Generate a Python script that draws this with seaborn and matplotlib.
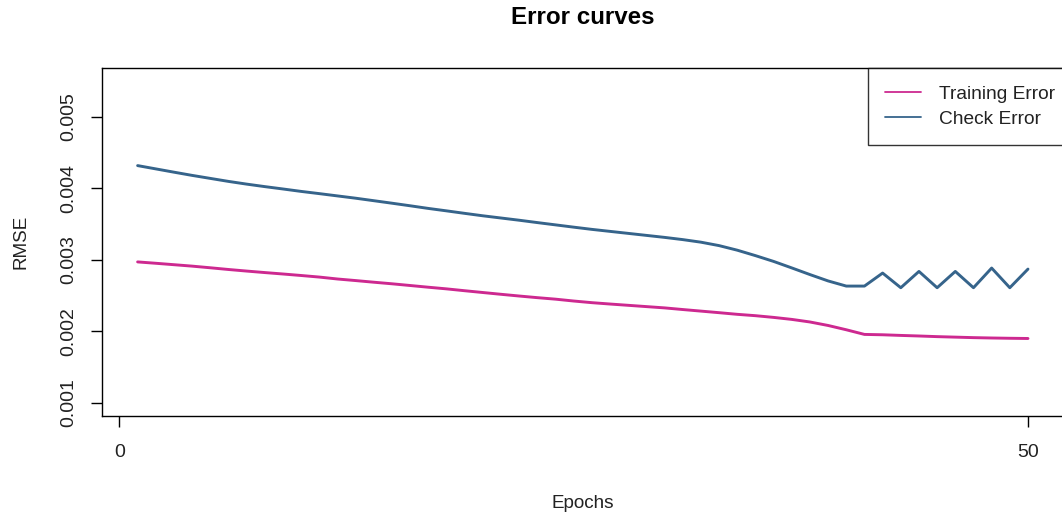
import numpy as np
import pandas as pd
import matplotlib
matplotlib.use("Agg")
import matplotlib.pyplot as plt
from matplotlib.lines import Line2D
import seaborn as sns

# Epoch numbers and RMSE per epoch for the two error curves
epochs = list(range(1, 51))

training_error = [
    0.002969, 0.002950, 0.002930, 0.002910, 0.002887, 0.002863, 0.002841, 0.002820, 0.002800, 0.002779,
    0.002757, 0.002730, 0.002708, 0.002685, 0.002663, 0.002639, 0.002615, 0.002592, 0.002566, 0.002541,
    0.002516, 0.002492, 0.002469, 0.002448, 0.002422, 0.002399, 0.002380, 0.002362, 0.002344, 0.002326,
    0.002303, 0.002281, 0.002259, 0.002236, 0.002217, 0.002193, 0.002165, 0.002129, 0.002080, 0.002020,
    0.001955, 0.001950, 0.001941, 0.001933, 0.001924, 0.001917, 0.001910, 0.001905, 0.001901, 0.001898,
]

check_error = [
    0.004316, 0.004270, 0.004224, 0.004179, 0.004137, 0.004095, 0.004057, 0.004022, 0.003989, 0.003955,
    0.003924, 0.003892, 0.003860, 0.003825, 0.003790, 0.003754, 0.003717, 0.003683, 0.003648, 0.003614,
    0.003583, 0.003552, 0.003519, 0.003487, 0.003455, 0.003424, 0.003396, 0.003368, 0.003340, 0.003312,
    0.003281, 0.003245, 0.003197, 0.003133, 0.003057, 0.002976, 0.002885, 0.002792, 0.002703, 0.002631,
    0.002631, 0.002813, 0.002608, 0.002836, 0.002608, 0.002836, 0.002608, 0.002883, 0.002608, 0.002869,
]

series_names = ["Training Error", "Check Error"]
series_colors = ["#CD2990", "#36648B"]

x_ticks = [0, 50]
y_ticks = [0.001, 0.002, 0.003, 0.004, 0.005]
y_tick_labels = ["0.001", "0.002", "0.003", "0.004", "0.005"]

df = pd.DataFrame({
    "Epoch": epochs * 2,
    "RMSE": training_error + check_error,
    "Series": [series_names[0]] * len(epochs) + [series_names[1]] * len(epochs),
})

sns.set_style("ticks")
plt.rcParams["font.family"] = ["Liberation Sans", "DejaVu Sans"]

fig = plt.figure(figsize=(10.62, 5.20), dpi=100)
W, H = 1062, 520
left, right, top, bottom = 102, 1063.6, 68, 416
ax = fig.add_axes([left / W, 1 - bottom / H, (right - left) / W, (bottom - top) / H])

sns.lineplot(
    data=df, x="Epoch", y="RMSE", hue="Series",
    palette=dict(zip(series_names, series_colors)),
    linewidth=2.1, ax=ax, legend=False,
)

ax.set_xlim(-0.96, 51.96)
ax.set_ylim(0.000814, 0.005681)
ax.set_xticks(x_ticks)
ax.set_xticklabels([str(t) for t in x_ticks], fontsize=14)
ax.set_yticks(y_ticks)
ax.set_yticklabels(y_tick_labels, fontsize=14, rotation=90, va="center")

for s in ax.spines.values():
    s.set_visible(True)
    s.set_color("black")
    s.set_linewidth(1.0)

ax.tick_params(axis="both", direction="out", length=8, width=1.0, color="black", labelcolor="#222222")
ax.tick_params(axis="y", pad=10)
ax.tick_params(axis="x", pad=12)

ax.set_xlabel("Epochs", fontsize=13.6, color="#222222", va="center")
ax.xaxis.set_label_coords(0.5, (bottom - 503) / (bottom - top))
ax.set_ylabel("RMSE", fontsize=13.6, color="#222222", va="center")
ax.yaxis.set_label_coords((21 - left) / (right - left), 0.5)

ax.text(0.5, (bottom - 18) / (bottom - top), "Error curves", transform=ax.transAxes,
        ha="center", va="center", fontsize=17.4, fontweight="bold", color="black")

handles = [Line2D([0], [0], color=c, linewidth=1.3) for c in series_colors]
leg = ax.legend(
    handles, series_names, loc="upper right",
    bbox_to_anchor=((1072 - left) / (right - left), 1),
    borderaxespad=0, frameon=True, fancybox=False, fontsize=13.8,
    handlelength=1.9, handletextpad=0.9, borderpad=0.9, labelspacing=0.4,
)
leg.get_frame().set_edgecolor("black")
leg.get_frame().set_linewidth(1.0)
for t in leg.get_texts():
    t.set_color("#222222")

fig.savefig("out.png", dpi=100)
